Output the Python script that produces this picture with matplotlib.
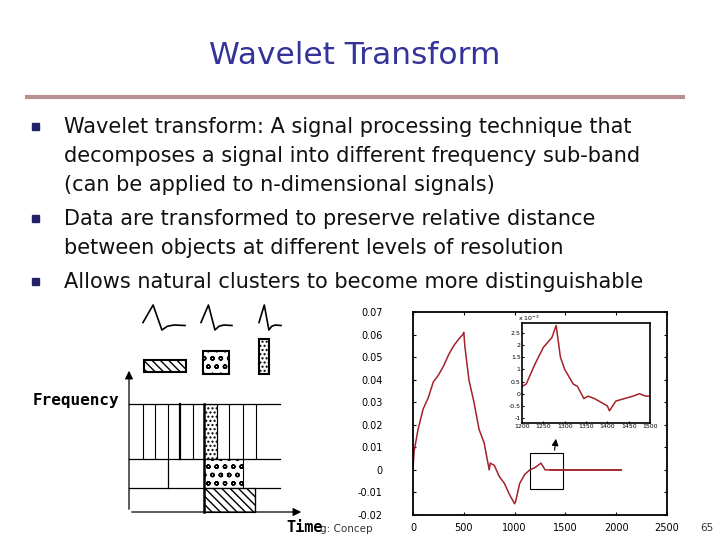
import matplotlib
matplotlib.use("Agg")
import matplotlib.pyplot as plt
import matplotlib.patches as mpatches
import numpy as np

TITLE = "Wavelet Transform"
BULLETS = [
    ["Wavelet transform: A signal processing technique that",
     "decomposes a signal into different frequency sub-band",
     "(can be applied to n-dimensional signals)"],
    ["Data are transformed to preserve relative distance",
     "between objects at different levels of resolution"],
    ["Allows natural clusters to become more distinguishable"],
]

# main signal
sig_x = [0, 10, 50, 100, 150, 200, 250, 300, 350, 400, 450, 490, 500, 510, 550,
         600, 650, 700, 750, 760, 800, 850, 900, 950, 1000, 1010, 1050, 1100,
         1150, 1200, 1260, 1300, 1350, 2050]
sig_y = [0, 0.008, 0.018, 0.027, 0.032, 0.039, 0.042, 0.046, 0.051, 0.055, 0.058,
         0.060, 0.061, 0.055, 0.040, 0.030, 0.018, 0.012, 0.000, 0.003, 0.002,
         -0.003, -0.006, -0.011, -0.015, -0.014, -0.006, -0.002, 0.0, 0.001,
         0.003, 0.0, 0.0, 0.0]
# zoomed detail (x1e-3)
zoom_x = [1200, 1210, 1230, 1250, 1270, 1280, 1290, 1300, 1320, 1330, 1345, 1355,
          1370, 1380, 1400, 1405, 1420, 1440, 1460, 1475, 1490, 1500]
zoom_y = [0.3, 0.4, 1.2, 1.9, 2.3, 2.8, 1.5, 1.0, 0.4, 0.3, -0.2, -0.1, -0.2,
          -0.3, -0.5, -0.7, -0.3, -0.2, -0.1, 0.0, -0.1, -0.1]
main_yticks = [-0.02, -0.01, 0, 0.01, 0.02, 0.03, 0.04, 0.05, 0.06, 0.07]
main_ylabels = ["-0.02", "-0.01", "0", "0.01", "0.02", "0.03", "0.04", "0.05", "0.06", "0.07"]
main_xticks = [0, 500, 1000, 1500, 2000, 2500]
zoom_yticks = [-1, -0.5, 0, 0.5, 1, 1.5, 2, 2.5]
zoom_xticks = [1200, 1250, 1300, 1350, 1400, 1450, 1500]

# wavelet outline (unit box) and the three wavelet placements (x0, width)
wave_u = [0, 0.24, 0.45, 0.58, 0.74, 1.0]
wave_v = [0.7, 0.0, 1.0, 0.85, 0.8, 0.82]

RED = "#a3222a"
BLUE = "#333399"

fig = plt.figure(figsize=(7.2, 5.4), dpi=100, facecolor="white")
bg = fig.add_axes([0, 0, 1, 1])
bg.set_xlim(0, 720); bg.set_ylim(540, 0); bg.axis("off")

bg.text(355, 55, TITLE, ha="center", va="center", fontsize=22.5, color=BLUE)
bg.plot([25, 685], [97, 97], color="#b89090", lw=3, solid_capstyle="butt")

y = 127
for lines in BULLETS:
    bg.add_patch(mpatches.Rectangle((32, y - 4), 7, 7, color="#222266"))
    for ln in lines:
        bg.text(64, y, ln, ha="left", va="center", fontsize=15, color="#111111")
        y += 29
    y += 5

# ---- left time-frequency diagram ----
k = dict(color="black", lw=0.9)
bg.annotate("", xy=(129, 368), xytext=(129, 512),
            arrowprops=dict(arrowstyle="-|>", color="black", lw=0.9, mutation_scale=12))
bg.annotate("", xy=(304, 512), xytext=(129, 512),
            arrowprops=dict(arrowstyle="-|>", color="black", lw=0.9, mutation_scale=12))
for yy in (404, 459, 488):
    bg.plot([129, 280], [yy, yy], **k)
for xx, w in zip([143, 155, 168, 180, 193, 217, 229, 243, 256],
                 [0.8, 0.8, 0.8, 1.6, 0.8, 0.8, 0.8, 0.8, 0.8]):
    bg.plot([xx, xx], [404, 459], color="black", lw=w)
bg.plot([204, 204], [404, 512], color="black", lw=1.8)
bg.plot([168, 168], [459, 488], **k)
bg.plot([255, 255], [488, 512], **k)
bg.add_patch(mpatches.Rectangle((204, 404), 13, 55, fc="white", ec="black", lw=0.8, hatch="...."))
bg.add_patch(mpatches.Rectangle((204, 459), 39, 29, fc="white", ec="black", lw=0.8, hatch="oo"))
bg.add_patch(mpatches.Rectangle((204, 488), 51, 24, fc="white", ec="black", lw=0.8, hatch="\\\\\\\\"))
bg.add_patch(mpatches.Rectangle((144, 360), 42, 12, fc="white", ec="black", lw=1.5, hatch="\\\\\\\\"))
bg.add_patch(mpatches.Rectangle((203, 351), 26, 23, fc="white", ec="black", lw=1.5, hatch="oo"))
bg.add_patch(mpatches.Rectangle((259, 339), 10, 35, fc="white", ec="black", lw=1.5, hatch="...."))
for x0, w in [(143, 42), (201, 31), (259, 22)]:
    bg.plot([x0 + u * w for u in wave_u], [305 + v * 25 for v in wave_v], color="black", lw=1.2)
bg.text(33, 401, "Frequency", fontsize=11.5, fontweight="bold", family="DejaVu Sans Mono",
        ha="left", va="center")
bg.text(286, 528, "Time", fontsize=11, fontweight="bold", family="DejaVu Sans Mono",
        ha="left", va="center")
bg.text(320, 529, "g: Concep", fontsize=7.5, color="#333333", ha="left", va="center")
bg.text(700, 528, "65", fontsize=7.5, color="#333333", ha="left", va="center")

# ---- right chart ----
ax = fig.add_axes([413 / 720, 1 - 515 / 540, 254 / 720, 203 / 540])
ax.plot(sig_x, sig_y, color=RED, lw=1.1)
ax.set_xlim(0, 2500); ax.set_ylim(-0.02, 0.07)
ax.set_yticks(main_yticks, main_ylabels)
ax.set_xticks(main_xticks)
ax.tick_params(labelsize=7, direction="in", length=2, right=True, top=True, pad=22)
ax.tick_params(axis="x", pad=6)
for s in ax.spines.values():
    s.set_linewidth(1.3)
ax.add_patch(mpatches.Rectangle((1150, -0.0085), 330, 0.016, fill=False, ec="black", lw=0.8))
ax.annotate("", xy=(1410, 0.015), xytext=(1390, 0.0075),
            arrowprops=dict(arrowstyle="-|>", color="black", lw=0.8))
ax.plot([1350, 2050], [0, 0], color=RED, lw=1.1)

ins = fig.add_axes([522 / 720, 1 - 423 / 540, 128 / 720, 100 / 540])
ins.plot(zoom_x, zoom_y, color=RED, lw=1.1)
ins.set_xlim(1200, 1500); ins.set_ylim(-1.2, 2.9)
ins.set_yticks(zoom_yticks, ["-1", "-0.5", "0", "0.5", "1", "1.5", "2", "2.5"])
ins.set_xticks(zoom_xticks)
ins.tick_params(labelsize=4.5, direction="in", length=1.5, pad=1)
ins.text(-0.03, 1.02, "x 10$^{-3}$", transform=ins.transAxes, fontsize=4.5)
for s in ins.spines.values():
    s.set_linewidth(1.2)

fig.savefig("out.png", dpi=100)
